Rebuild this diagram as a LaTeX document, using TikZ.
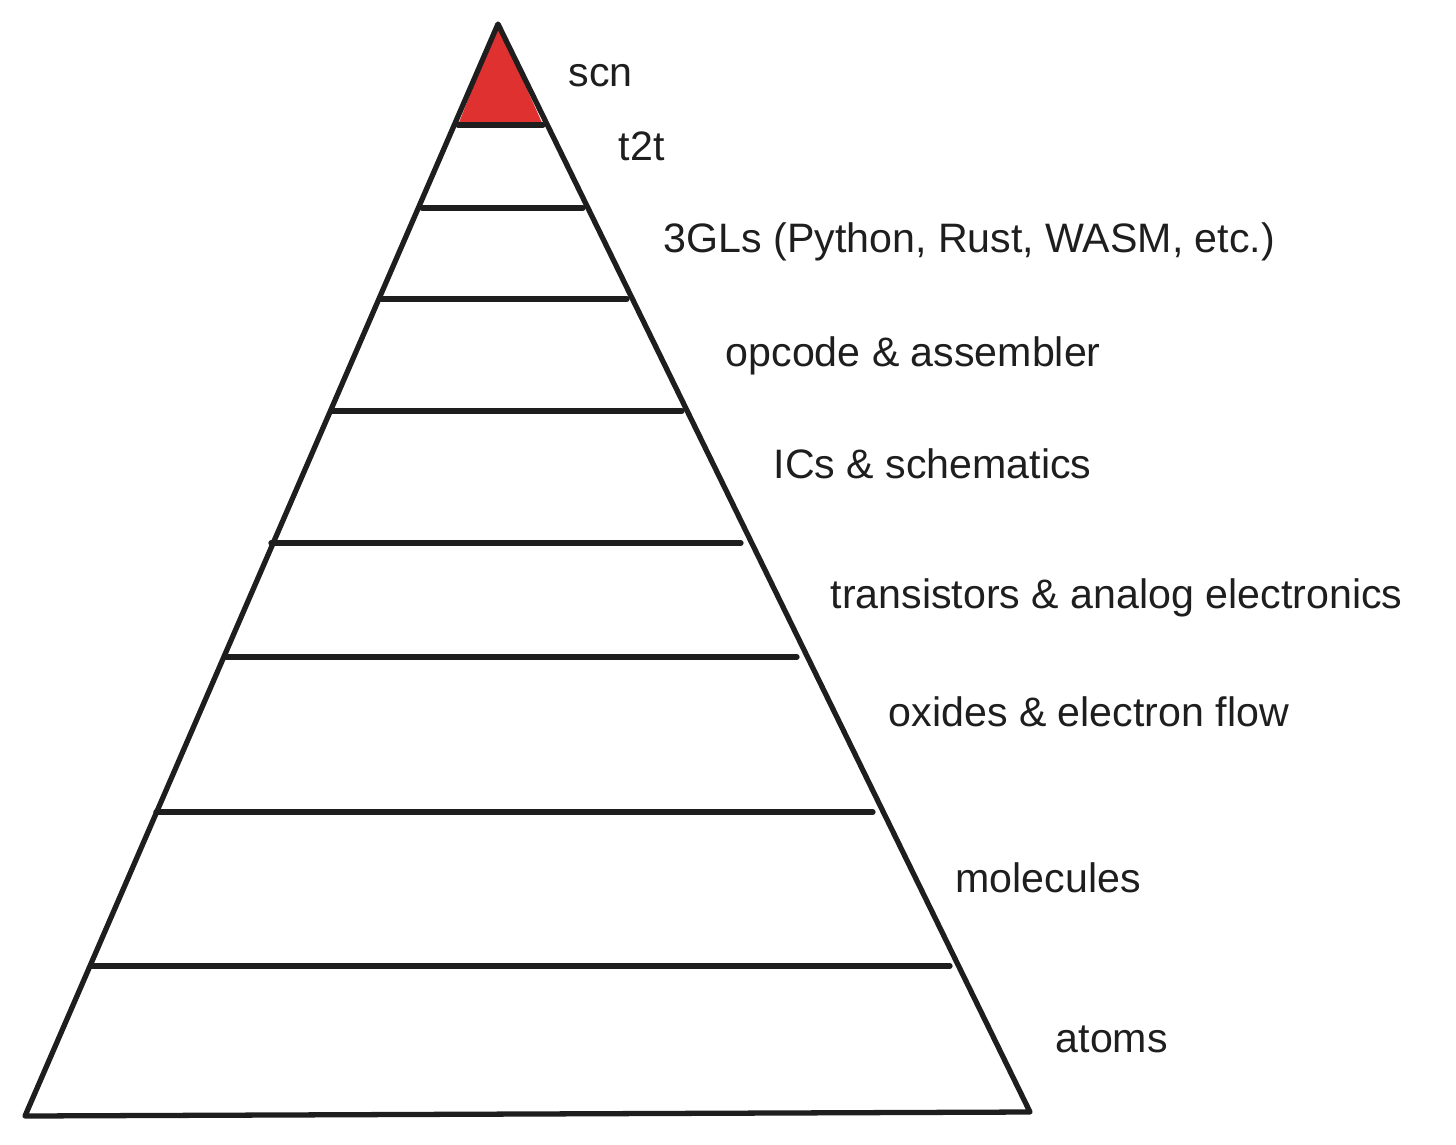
\documentclass[tikz,border=0pt]{standalone}
\usepackage{fontspec}
\setmainfont{Liberation Sans}
\usetikzlibrary{positioning,calc}
\definecolor{inkblack}{HTML}{1E1E1E}
\definecolor{topred}{HTML}{E03131}

\begin{document}
\begin{tikzpicture}[
  x=0.01cm,y=-0.01cm,
  edge/.style={draw=inkblack,line width=1.5pt,line cap=round,line join=round},
  layer/.style={draw=inkblack,line width=1.5pt,line cap=round},
  lbl/.style={anchor=base west,inner sep=0pt,text=inkblack,font=\fontsize{11.7}{13}\selectfont}
]
  \useasboundingbox (0,0) rectangle (1456,1144);

  % pyramid corners
  \coordinate (apex) at (498,24);
  \coordinate (bl) at (25,1116);
  \coordinate (br) at (1030,1112);

  % red tip
  \coordinate (tipL) at (458,125);
  \coordinate (tipR) at (543,125);
  \fill[topred] (apex) -- (tipR) -- (tipL) -- cycle;

  % layer lines
  \foreach \yy/\xl/\xr [count=\i] in {125/458/543,208/422/583,299/381/627,411/331/682,
                                     543/271/741,657/226/797,812/156/873,966/92/950}{
    \coordinate (l\i) at (\xl,\yy);
    \coordinate (r\i) at (\xr,\yy);
    \draw[layer] (l\i) -- (r\i);
  }

  \draw[edge] (apex) -- (bl) -- (br) -- cycle;

  % labels
  \node[lbl] (scn) at (568,86) {scn};
  \node[lbl] (t2t) at (618,160) {t2t};
  \node[lbl] (tgl) at (663,252) {3GLs (Python, Rust, WASM, etc.)};
  \node[lbl] (opc) at (725,366) {opcode \& assembler};
  \node[lbl] (ics) at (773,478) {ICs \& schematics};
  \node[lbl] (trn) at (830,608) {transistors \& analog electronics};
  \node[lbl] (oxd) at (888,726) {oxides \& electron flow};
  \node[lbl] (mol) at (955,892) {molecules};
  \node[lbl] (atm) at (1055,1052) {atoms};
\end{tikzpicture}
\end{document}
